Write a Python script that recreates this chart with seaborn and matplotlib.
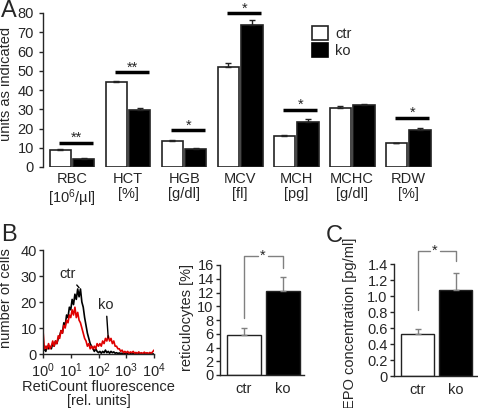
import numpy as np
import pandas as pd
import matplotlib
matplotlib.use('Agg')
import matplotlib.pyplot as plt
from matplotlib.patches import Patch
from matplotlib.ticker import NullLocator
import seaborn as sns

# Panel A: blood parameters
params = ['RBC', 'HCT', 'HGB', 'MCV', 'MCH', 'MCHC', 'RDW']
units = ['[$\\mathregular{10^6}$/µl]', '[%]', '[g/dl]', '[fl]', '[pg]', '[g/dl]', '[%]']
ctr_mean = [8.8, 44.0, 13.5, 51.9, 16.1, 30.9, 12.3]
ko_mean = [4.2, 29.7, 9.5, 74.0, 23.6, 32.1, 19.3]
ctr_err = [0.4, 0.6, 0.4, 2.0, 0.5, 1.0, 0.2]
ko_err = [0.3, 0.7, 0.2, 2.5, 1.1, 0.4, 0.8]
sig_marks = ['**', '**', '*', '*', '*', '', '*']
sig_height = [12.7, 49.3, 19.0, 80.0, 29.8, 0, 25.7]

# Panel B: RetiCount histogram (log10 of fluorescence, counts)
hist_log_x = [0.00, 0.05, 0.10, 0.15, 0.20, 0.25, 0.30, 0.35, 0.40, 0.45,
              0.50, 0.55, 0.60, 0.65, 0.70, 0.75, 0.80, 0.85, 0.90, 0.95,
              1.00, 1.05, 1.10, 1.15, 1.20, 1.25, 1.30, 1.35, 1.40, 1.45,
              1.50, 1.55, 1.60, 1.65, 1.70, 1.75, 1.80, 1.85, 1.90, 1.95,
              2.00, 2.05, 2.10, 2.15, 2.20, 2.25, 2.30, 2.35, 2.40, 2.45,
              2.50, 2.55, 2.60, 2.65, 2.70, 2.75, 2.80, 2.85, 2.90, 2.95,
              3.00, 3.05, 3.10, 3.15, 3.20, 3.25, 3.30, 3.35, 3.40, 3.45,
              3.50, 3.55, 3.60, 3.65, 3.70, 3.75, 3.80, 3.85, 3.90, 3.95, 4.00]
ctr_counts = [1, 2, 1, 3, 2, 3, 2, 4, 3, 5, 4, 6, 7, 9, 8, 12, 11, 15, 14, 18,
              17, 21, 19, 23, 21, 25, 22, 25, 20, 18, 14, 11, 8, 6, 4, 3, 2, 1, 2, 1,
              0.5, 1, 0.3, 1, 0.5, 1.5, 0.5, 1, 0.3, 1, 0.5, 0.8, 0.3, 0.5, 0.2, 0.4, 0.2, 0.3, 0.1, 0.2,
              0.1, 0.2, 0, 0.1, 0, 0.1, 0, 0, 0.1, 0, 0, 0, 0, 0, 0, 0, 0, 0, 0, 0, 0]
ko_counts = [9, 2, 3, 2, 4, 2, 3, 5, 3, 5, 4, 7, 6, 9, 8, 11, 10, 13, 12, 15,
             14, 17, 15, 18, 14, 16, 13, 12, 10, 8, 6, 5, 3, 4, 2, 3, 2, 3, 2, 4,
             3, 4, 3, 5, 4, 6, 5, 7, 5, 6, 4, 5, 3, 3, 2, 2, 1, 1.5, 0.5, 1,
             0.5, 1, 0.3, 0.8, 0.5, 1, 0.3, 0.6, 0.2, 0.8, 0.3, 0.5, 0.2, 0.7, 0.3, 0.5, 0.2, 0.6, 0.3, 0.8, 1.5]

# Panel B: reticulocytes, Panel C: EPO
groups = ['ctr', 'ko']
retic_mean = [5.8, 12.2]
retic_err = [1.1, 2.1]
epo_mean = [0.525, 1.075]
epo_err = [0.065, 0.215]

sns.set_style('ticks')
plt.rcParams['font.family'] = ['Liberation Sans', 'DejaVu Sans']
plt.rcParams['mathtext.fontset'] = 'custom'
plt.rcParams['mathtext.rm'] = 'Liberation Sans'
plt.rcParams['font.size'] = 10.5
plt.rcParams['axes.linewidth'] = 1.0
plt.rcParams['xtick.major.width'] = 1.0
plt.rcParams['ytick.major.width'] = 1.0
plt.rcParams['xtick.major.size'] = 3
plt.rcParams['ytick.major.size'] = 3
plt.rcParams['xtick.labelsize'] = 10.5
plt.rcParams['ytick.labelsize'] = 10.5

W, H = 478, 408
fig = plt.figure(figsize=(W / 100, H / 100), dpi=100)


def rect(left, top, right, bottom):
    return [left / W, 1 - bottom / H, (right - left) / W, (bottom - top) / H]


pal = {'ctr': 'white', 'ko': 'black'}

# ---------- Panel A ----------
axA = fig.add_axes(rect(43, 13, 439, 167))
dfA = pd.DataFrame({
    'param': params * 2,
    'group': ['ctr'] * len(params) + ['ko'] * len(params),
    'value': ctr_mean + ko_mean,
})
sns.barplot(data=dfA, x='param', y='value', hue='group', order=params,
            hue_order=groups, palette=pal, saturation=1, width=0.84, gap=0.1,
            edgecolor='#222222', linewidth=1.2, errorbar=None, legend=False, ax=axA)
errs = ctr_err + ko_err
for p, e in zip(axA.patches, errs):
    xc = p.get_x() + p.get_width() / 2
    axA.errorbar(xc, p.get_height(), yerr=[[0], [e]], fmt='none',
                 ecolor='#222222', elinewidth=1, capsize=2.5, capthick=1)
for i, (m, h) in enumerate(zip(sig_marks, sig_height)):
    if not m:
        continue
    axA.plot([i - 0.23, i + 0.38], [h, h], color='black', lw=2.5,
             solid_capstyle='butt', clip_on=False)
    axA.text(i + 0.075, h + 2.4, m, ha='center', va='center', fontsize=10.5)
axA.set_xlim(-0.52, 6.55)
axA.set_ylim(0, 80)
axA.set_yticks(range(0, 81, 10))
axA.set_xticks(range(len(params)))
axA.set_xticklabels([f'{p}\n{u}' for p, u in zip(params, units)], linespacing=1.1)
axA.tick_params(axis='x', length=0, pad=3.5)
axA.set_xlabel('')
axA.set_ylabel('units as indicated')
axA.yaxis.set_label_coords(-0.076, 0.54)
for s in ['top', 'right', 'bottom']:
    axA.spines[s].set_visible(False)
handles = [Patch(facecolor='white', edgecolor='#222222', lw=1.2),
           Patch(facecolor='black', edgecolor='black', lw=1.2)]
axA.legend(handles, groups, loc='upper left', bbox_to_anchor=(0.68, 0.915),
           frameon=False, borderpad=0, borderaxespad=0, handlelength=1.1,
           handleheight=1.1, handletextpad=0.45, labelspacing=0.12, fontsize=10.5)

# ---------- Panel B histogram ----------
axH = fig.add_axes(rect(43, 250, 154, 354))
hx = 10 ** np.array(hist_log_x)
sns.lineplot(x=hx, y=ctr_counts, color='black', lw=1.2, ax=axH)
sns.lineplot(x=hx, y=ko_counts, color='#e00000', lw=1.2, ax=axH)
axH.set_xscale('log')
axH.set_xlim(1, 1e4)
axH.set_ylim(0, 40)
axH.set_xticks([1, 10, 100, 1000, 10000])
axH.set_xticklabels(['$\\mathregular{10^{%d}}$' % k for k in range(5)])
axH.xaxis.set_minor_locator(NullLocator())
axH.set_yticks([0, 10, 20, 30, 40])
axH.tick_params(axis='x', pad=2.5)
axH.tick_params(axis='y', pad=1.5)
axH.set_xlabel('RetiCount fluorescence\n[rel. units]', labelpad=0, linespacing=1.0)
axH.set_ylabel('number of cells')
axH.yaxis.set_label_coords(-0.27, 0.54)
sns.despine(ax=axH)
axH.annotate('ctr', xy=(10 ** 1.3, 25.5), xytext=(10 ** 0.87, 30.9),
             ha='center', va='center',
             arrowprops=dict(arrowstyle='-', color='black', lw=1, shrinkA=1, shrinkB=0))
axH.annotate('ko', xy=(10 ** 2.35, 6.2), xytext=(10 ** 2.27, 19),
             ha='center', va='center',
             arrowprops=dict(arrowstyle='-', color='black', lw=1, shrinkA=1, shrinkB=0))


def small_bars(ax, means, errs, ymax, yticks, ylabel):
    df = pd.DataFrame({'group': groups, 'value': means})
    sns.barplot(data=df, x='group', y='value', hue='group', order=groups,
                palette=pal, saturation=1, width=0.87, edgecolor='#222222',
                linewidth=1.0, errorbar=None, legend=False, ax=ax)
    for p, e in zip(ax.patches, errs):
        xc = p.get_x() + p.get_width() / 2
        ax.errorbar(xc, p.get_height(), yerr=[[0], [e]], fmt='none',
                    ecolor='#808080', elinewidth=1, capsize=2, capthick=1)
    ax.set_ylim(0, ymax)
    ax.set_yticks(yticks)
    ax.tick_params(axis='x', length=0, pad=5)
    ax.tick_params(axis='y', pad=1.5)
    ax.set_xlabel('')
    ax.set_ylabel(ylabel)
    sns.despine(ax=ax)


def bracket(ax, top, left_low, right_low, star_x, gap):
    ax.plot([0, 0, star_x - gap], [left_low, top, top], color='#808080',
            lw=1, clip_on=False)
    ax.plot([star_x + gap, 1, 1], [top, top, right_low], color='#808080',
            lw=1, clip_on=False)
    ax.text(star_x, top, '*', ha='center', va='center', fontsize=10.5)


# ---------- Panel B reticulocytes ----------
axR = fig.add_axes(rect(220, 265, 304, 375))
small_bars(axR, retic_mean, retic_err, 16, range(0, 17, 2), 'reticulocytes [%]')
axR.set_xlim(-0.615, 1.54)
axR.yaxis.set_label_coords(-0.31, 0.52)
bracket(axR, 17.3, 8.3, 15.6, 0.49, 0.13)

# ---------- Panel C EPO ----------
axE = fig.add_axes(rect(394, 264, 478, 376))
small_bars(axE, epo_mean, epo_err, 1.4, [0, 0.2, 0.4, 0.6, 0.8, 1.0, 1.2, 1.4],
           'EPO concentration [pg/ml]')
axE.set_yticklabels(['0', '0.2', '0.4', '0.6', '0.8', '1.0', '1.2', '1.4'])
axE.set_xlim(-0.63, 1.58)
axE.yaxis.set_label_coords(-0.44, 0.47)
bracket(axE, 1.56, 0.825, 1.44, 0.45, 0.13)

# panel letters
fig.text(1 / W, 1 - 0 / H, 'A', fontsize=17, va='top', ha='left')
fig.text(1 / W, 1 - 224 / H, 'B', fontsize=17, va='top', ha='left')
fig.text(326 / W, 1 - 225 / H, 'C', fontsize=17, va='top', ha='left')

fig.savefig('out.png', dpi=100)
